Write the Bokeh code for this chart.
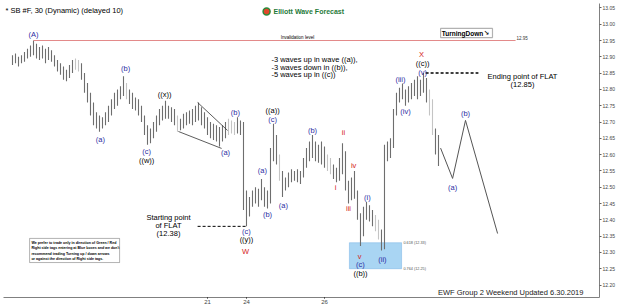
from bokeh.plotting import figure
from bokeh.models import Range1d, ColumnDataSource, BoxAnnotation, FixedTicker, PrintfTickFormatter
from bokeh.embed import file_html
from bokeh.resources import INLINE
from bokeh.core.properties import value

# ---------------- data (30-min bars, SB #F) ----------------
highs = [12.905, 12.910, 12.900, 12.905, 12.915, 12.925, 12.935, 12.950, 12.940, 12.930,
         12.935, 12.925, 12.930, 12.920, 12.905, 12.890, 12.880, 12.870, 12.860, 12.875,
         12.890, 12.895, 12.890, 12.880, 12.850, 12.820, 12.790, 12.760, 12.730, 12.720,
         12.715, 12.730, 12.750, 12.770, 12.790, 12.800, 12.810, 12.840, 12.820, 12.800,
         12.790, 12.775, 12.770, 12.750, 12.720, 12.690, 12.680, 12.700, 12.720, 12.740,
         12.750, 12.765, 12.750, 12.745, 12.740, 12.720, 12.710, 12.725, 12.730, 12.735,
         12.740, 12.750, 12.760, 12.745, 12.730, 12.715, 12.700, 12.695, 12.690, 12.685,
         12.690, 12.700, 12.710, 12.705, 12.700, 12.715, 12.705, 12.700, 12.490, 12.470,
         12.490, 12.500, 12.495, 12.525, 12.500, 12.490, 12.620, 12.695, 12.660, 12.600,
         12.550, 12.530, 12.545, 12.555, 12.550, 12.555, 12.550, 12.590, 12.620, 12.640,
         12.660, 12.640, 12.630, 12.640, 12.625, 12.600, 12.590, 12.570, 12.560, 12.590,
         12.635, 12.610, 12.520, 12.530, 12.550, 12.490, 12.420, 12.440, 12.455, 12.445,
         12.430, 12.415, 12.400, 12.370, 12.630, 12.640, 12.650, 12.740, 12.790, 12.805,
         12.818, 12.800, 12.810, 12.820, 12.830, 12.840, 12.830, 12.850, 12.835, 12.800,
         12.770, 12.680, 12.660]
lows = [12.875, 12.880, 12.870, 12.880, 12.885, 12.895, 12.900, 12.905, 12.895, 12.890,
        12.895, 12.880, 12.890, 12.885, 12.870, 12.855, 12.845, 12.830, 12.825, 12.835,
        12.850, 12.860, 12.855, 12.830, 12.790, 12.760, 12.720, 12.690, 12.680, 12.670,
        12.680, 12.690, 12.700, 12.720, 12.740, 12.750, 12.770, 12.780, 12.770, 12.755,
        12.740, 12.735, 12.720, 12.700, 12.660, 12.630, 12.635, 12.650, 12.670, 12.690,
        12.705, 12.710, 12.710, 12.700, 12.690, 12.670, 12.675, 12.680, 12.690, 12.695,
        12.690, 12.700, 12.705, 12.690, 12.680, 12.660, 12.650, 12.645, 12.640, 12.625,
        12.640, 12.650, 12.660, 12.665, 12.660, 12.665, 12.660, 12.430, 12.380, 12.410,
        12.440, 12.450, 12.440, 12.460, 12.440, 12.435, 12.450, 12.580, 12.570, 12.520,
        12.470, 12.490, 12.500, 12.515, 12.520, 12.515, 12.510, 12.530, 12.560, 12.580,
        12.590, 12.580, 12.575, 12.570, 12.560, 12.550, 12.540, 12.525, 12.515, 12.520,
        12.540, 12.490, 12.450, 12.460, 12.465, 12.400, 12.320, 12.350, 12.400, 12.395,
        12.380, 12.365, 12.340, 12.306, 12.310, 12.580, 12.590, 12.620, 12.720, 12.760,
        12.770, 12.750, 12.760, 12.770, 12.780, 12.770, 12.780, 12.790, 12.760, 12.720,
        12.660, 12.600, 12.565]
light_bars = [21, 22, 38, 55, 72, 73, 74, 89, 105, 106, 121, 122, 139, 140]

invalidation_level = 12.95
flat_start = 12.38
flat_end = 12.85
box_top, box_bottom = 12.33, 12.25

proj_x = [142.7, 146.7, 151.0, 161.7]
proj_y = [12.62, 12.527, 12.705, 12.358]

price_ticks = [12.20, 12.25, 12.30, 12.35, 12.40, 12.45, 12.50, 12.55, 12.60,
               12.65, 12.70, 12.75, 12.80, 12.85, 12.90, 12.95, 13.00, 13.05]
day_ticks = [65, 78, 104]
day_labels = ["21", "24", "26"]

# wave labels: text, bar position, price, colour group
wave_labels = [
    ("(A)", 7.0, 12.968, "b"), ("(a)", 29.3, 12.646, "b"), ("(b)", 37.7, 12.864, "b"),
    ("(c)", 44.7, 12.610, "b"), ("((w))", 44.7, 12.582, "k"), ("((x))", 50.7, 12.784, "k"),
    ("(a)", 71.0, 12.606, "b"), ("(b)", 74.3, 12.729, "b"), ("(c)", 78.0, 12.364, "b"),
    ("((y))", 78.0, 12.340, "k"), ("W", 77.7, 12.303, "r"), ("(a)", 83.3, 12.551, "b"),
    ("(b)", 85.0, 12.416, "b"), ("((a))", 86.7, 12.735, "k"), ("(c)", 86.7, 12.708, "b"),
    ("(a)", 90.3, 12.444, "b"), ("(b)", 100.0, 12.674, "b"), ("i", 107.7, 12.499, "r"),
    ("ii", 110.3, 12.668, "r"), ("iii", 112.0, 12.435, "r"), ("iv", 113.7, 12.567, "r"),
    ("v", 115.7, 12.288, "r"), ("(c)", 116.0, 12.263, "b"), ("((b))", 116.0, 12.235, "k"),
    ("(i)", 118.3, 12.469, "b"), ("(ii)", 123.3, 12.278, "b"), ("(iii)", 129.3, 12.830, "b"),
    ("(iv)", 131.0, 12.732, "b"), ("(v)", 136.7, 12.852, "b"), ("((c))", 136.7, 12.879, "k"),
    ("X", 136.3, 12.907, "r"), ("(a)", 146.7, 12.499, "b"), ("(b)", 151.0, 12.726, "b"),
]

FONT = "Liberation Sans"
BLUE, RED, BLACK = "#2b2ba3", "#d42222", "#000000"

p = figure(width=625, height=308, x_range=Range1d(-3, 195.67), y_range=Range1d(12.1618, 13.0635),
           output_backend="svg", toolbar_location=None, y_axis_location="right",
           min_border_left=3, min_border_right=26, min_border_top=3, min_border_bottom=11,
           border_fill_color="white", background_fill_color="white", outline_line_color=None)
p.xgrid.visible = False
p.ygrid.visible = False

yax = p.yaxis[0]
yax.ticker = FixedTicker(ticks=price_ticks)
yax.formatter = PrintfTickFormatter(format="%.2f")
yax.major_label_text_font = FONT
yax.major_label_text_font_size = "5px"
yax.major_label_standoff = 1
yax.major_tick_out = 2
yax.major_tick_in = 0
yax.minor_tick_out = 0
yax.minor_tick_in = 0
yax.axis_line_color = "#808080"
yax.major_tick_line_color = "#606060"

xax = p.xaxis[0]
xax.ticker = FixedTicker(ticks=day_ticks)
xax.major_label_overrides = {t: s for t, s in zip(day_ticks, day_labels)}
xax.major_label_text_font = FONT
xax.major_label_text_font_size = "6px"
xax.major_label_standoff = 1
xax.major_tick_out = 1
xax.major_tick_in = 0
xax.minor_tick_out = 0
xax.minor_tick_in = 0
xax.axis_line_color = "#808080"

# blue reaction box
p.add_layout(BoxAnnotation(left=112.3, right=129.7, bottom=box_bottom, top=box_top,
                           fill_color="#a9d5f3", fill_alpha=1.0, line_color="#3d8fd6",
                           line_width=1, level="underlay"))
# TurningDown box & disclaimer box (under the text)
p.add_layout(BoxAnnotation(left=142.7, right=160.0, bottom=12.959, top=12.987,
                           fill_color="white", fill_alpha=1.0, line_color="black",
                           line_width=1.2, level="underlay"))
p.add_layout(BoxAnnotation(left=5.7, right=35.7, bottom=12.269, top=12.343,
                           fill_color="white", fill_alpha=1.0, line_color="black",
                           line_width=1, level="underlay"))

# bars
idx = list(range(len(highs)))
colors = ["#c4c4c4" if i in light_bars else "#6e6e6e" for i in idx]
bars = ColumnDataSource(dict(x=idx, hi=highs, lo=lows, c=colors))
p.segment(x0="x", y0="lo", x1="x", y1="hi", line_color="c", line_width=1.1, source=bars)

# invalidation line
a_idx = highs.index(max(highs))
p.line([a_idx, 167.7], [invalidation_level, invalidation_level], line_color="#e38a8a", line_width=1)

# wedge
p.line([61.7, 71.7], [12.760, 12.674], line_color="#333333", line_width=0.8)
p.line([55.3, 69.7], [12.671, 12.619], line_color="#333333", line_width=0.8)

# flat start / end dashed
p.line([61.7, 78.0], [flat_start, flat_start], line_color="black", line_width=1, line_dash="3 2")
p.line([137.7, 155.3], [flat_end, flat_end], line_color="black", line_width=1.5, line_dash="3 2")

# projection path
p.line(proj_x, proj_y, line_color="#555555", line_width=1)

# wave labels
cmap = {"b": BLUE, "r": RED, "k": BLACK}
wl = ColumnDataSource(dict(t=[w[0] for w in wave_labels], x=[w[1] for w in wave_labels],
                           y=[w[2] for w in wave_labels], c=[cmap[w[3]] for w in wave_labels]))
p.text(x="x", y="y", text="t", text_color="c", source=wl, text_font=value(FONT),
       text_font_size="7.5px", text_align="center", text_baseline="middle")


def txt(x, y, s, size="7.5px", color="black", align="left", style="normal", font=FONT):
    p.text(x=[x], y=[y], text=[s], text_font=value(font), text_font_size=size,
           text_color=color, text_align=align, text_baseline="middle", text_font_style=style)


# header texts
txt(-2.33, 13.042, "* SB #F, 30 (Dynamic) (delayed 10)", size="7.5px")
p.scatter([84.7], [13.039], size=7, fill_color="#e0472a", line_color="#2d8a3c", line_width=1.5)
txt(87.0, 13.039, "Elliott Wave Forecast", size="7px", color="#1f7a3a", style="bold")
txt(95.0, 12.960, "Invalidation level", size="4.5px", align="center")
txt(168.0, 12.957, "12.95", size="4.5px", color="#333333")

# TurningDown
txt(150.0, 12.973, "TurningDown", size="6.5px", align="center", style="bold")
txt(158.0, 12.973, "\u2198", size="6.5px", align="center", style="bold", font="DejaVu Sans")

# comment block
txt(86.3, 12.892, "-3 waves up in wave ((a)),", size="7.5px")
txt(86.3, 12.868, "-3 waves down in ((b)),", size="7.5px")
txt(86.3, 12.845, "-5 waves up in ((c))", size="7.5px")

# flat end / start texts
txt(170.0, 12.840, "Ending point of FLAT", size="7.5px", align="center")
txt(170.0, 12.815, "(12.85)", size="7.5px", align="center")
txt(52.0, 12.407, "Starting point", size="7.5px", align="center")
txt(52.0, 12.383, "of FLAT", size="7.5px", align="center")
txt(52.0, 12.358, "(12.38)", size="7.5px", align="center")

# fib labels
txt(130.3, box_top, "0.618 (12.33)", size="3.8px", color="#555555")
txt(130.3, box_bottom, "0.764 (12.25)", size="3.8px", color="#555555")

# disclaimer
disc = ["We prefer to trade only in direction of Green / Red",
        "Right side tags entering at Blue boxes and we don't",
        "recommend trading Turning up / down arrows",
        "or against the direction of Right side tags."]
for line, yy in zip(disc, [12.330, 12.313, 12.296, 12.279]):
    txt(6.3, yy, line, size="3.6px", style="bold")

# footer
txt(190.3, 12.177, "EWF Group 2 Weekend Updated 6.30.2019", size="7.5px", color="#222222", align="right")

open("out.html", "w").write(file_html(p, INLINE))
